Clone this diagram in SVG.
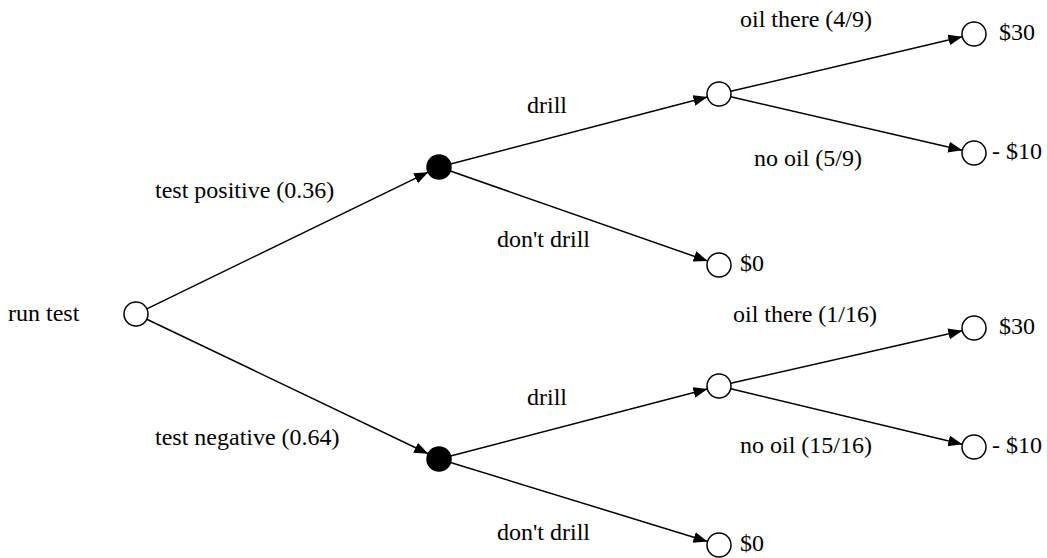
<svg xmlns="http://www.w3.org/2000/svg" width="1047" height="558" viewBox="0 0 1047 558">
<style>
text{font-family:"Liberation Serif","Times New Roman",serif;font-size:24px;fill:#000}
.n{fill:#fff;stroke:#000;stroke-width:1.5}
.f{fill:#000;stroke:#000;stroke-width:1.5}
.e{stroke:#000;stroke-width:1.5;fill:none;marker-end:url(#ah)}
.m{text-anchor:middle}
</style>
<defs>
<marker id="ah" markerUnits="userSpaceOnUse" markerWidth="16" markerHeight="12" refX="14" refY="5.5" orient="auto">
<path d="M0,0 L14,5.5 L0,11 z" fill="#000"/>
</marker>
</defs>
<g id="connectors">
<line class="e" x1="146.8" y1="308.8" x2="428.2" y2="172.2"/>
<line class="e" x1="146.8" y1="319.2" x2="428.2" y2="453.8"/>
<line class="e" x1="450.6" y1="164" x2="707.4" y2="97"/>
<line class="e" x1="450.3" y1="171" x2="707.7" y2="261"/>
<line class="e" x1="730.7" y1="91.3" x2="962.3" y2="36.7"/>
<line class="e" x1="730.7" y1="96.7" x2="962.3" y2="150.3"/>
<line class="e" x1="450.6" y1="456" x2="707.4" y2="389"/>
<line class="e" x1="450.5" y1="462.5" x2="707.5" y2="541.5"/>
<line class="e" x1="730.7" y1="383.3" x2="962.3" y2="330.7"/>
<line class="e" x1="730.7" y1="388.8" x2="962.3" y2="444.2"/>
<text x="155" y="198">test positive (0.36)</text>
<text x="155" y="445">test negative (0.64)</text>
<text x="527" y="113">drill</text>
<text x="497" y="247">don't drill</text>
<text x="527" y="405">drill</text>
<text x="497" y="540">don't drill</text>
<text x="740" y="27">oil there (4/9)</text>
<text x="754" y="166">no oil (5/9)</text>
<text x="733" y="322">oil there (1/16)</text>
<text x="740" y="453">no oil (15/16)</text>
</g>
<g id="root"><circle class="n" cx="136" cy="314" r="12"/><text x="8" y="321">run test</text></g>
<g id="decision-pos"><circle class="f" cx="439" cy="167" r="12"/></g>
<g id="decision-neg"><circle class="f" cx="439" cy="459" r="12"/></g>
<g id="chance-pos"><circle class="n" cx="719" cy="94" r="12"/></g>
<g id="chance-neg"><circle class="n" cx="719" cy="386" r="12"/></g>
<g id="pos-oil"><circle class="n" cx="974" cy="34" r="12"/><text class="m" x="1017" y="40">$30</text></g>
<g id="pos-nooil"><circle class="n" cx="974" cy="153" r="12"/><text class="m" x="1017" y="159">- $10</text></g>
<g id="pos-nodrill"><circle class="n" cx="719" cy="265" r="12"/><text class="m" x="752" y="271">$0</text></g>
<g id="neg-oil"><circle class="n" cx="974" cy="328" r="12"/><text class="m" x="1017" y="334">$30</text></g>
<g id="neg-nooil"><circle class="n" cx="974" cy="447" r="12"/><text class="m" x="1017" y="453">- $10</text></g>
<g id="neg-nodrill"><circle class="n" cx="719" cy="545" r="12"/><text class="m" x="752" y="551">$0</text></g>
</svg>
